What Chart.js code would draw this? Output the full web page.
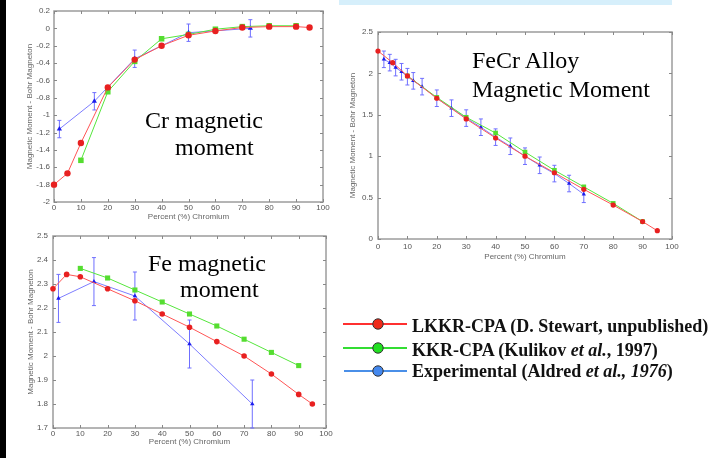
<!doctype html>
<html lang="en">
<head>
<meta charset="utf-8">
<title>FeCr magnetic moments</title>
<script src="https://cdn.jsdelivr.net/npm/chart.js@4.4.0/dist/chart.umd.min.js"></script>
<style>
  body { margin: 0; width: 720px; height: 458px; background: #fff; position: relative; overflow: hidden; }
  .bar { position: absolute; left: 0; top: 0; width: 6px; height: 458px; background: #000; }
  .strip { position: absolute; left: 339px; top: 0; width: 333px; height: 5px; background: #d6effb; }
  .box { position: absolute; }
  .note { position: absolute; font-family: "Liberation Serif", "Times New Roman", serif; font-size: 24px; line-height: 24px; color: #000; white-space: nowrap; }
  .leg { position: absolute; left: 412px; font-family: "Liberation Serif", "Times New Roman", serif; font-size: 18px; line-height: 18px; font-weight: bold; color: #111; white-space: nowrap; }
  svg { position: absolute; left: 0; top: 0; }
</style>
</head>
<body>
<div class="bar"></div>
<div class="strip"></div>

<div class="box" style="left:0;top:0"><canvas id="crChart" width="340" height="225"></canvas></div>
<div class="box" style="left:330px;top:0"><canvas id="alloyChart" width="390" height="262"></canvas></div>
<div class="box" style="left:0;top:225px"><canvas id="feChart" width="340" height="225"></canvas></div>

<div class="note" style="left:145px;top:108px">Cr magnetic</div>
<div class="note" style="left:175px;top:135px">moment</div>
<div class="note" style="left:472px;top:48px">FeCr Alloy</div>
<div class="note" style="left:472px;top:77px">Magnetic Moment</div>
<div class="note" style="left:148px;top:251px">Fe magnetic</div>
<div class="note" style="left:180px;top:277px">moment</div>

<svg width="720" height="458">
  <line x1="343" y1="324" x2="407" y2="324" stroke="#ff3030" stroke-width="2"/>
  <circle cx="378" cy="324" r="5.2" fill="#f02a1a" stroke="#333" stroke-width="1"/>
  <line x1="343" y1="348" x2="407" y2="348" stroke="#33dd33" stroke-width="2"/>
  <circle cx="378" cy="348" r="5.2" fill="#22e022" stroke="#333" stroke-width="1"/>
  <line x1="344" y1="371" x2="407" y2="371" stroke="#4a8fe8" stroke-width="2"/>
  <circle cx="378" cy="371" r="5.2" fill="#4488ee" stroke="#333" stroke-width="1"/>
</svg>
<div class="leg" style="top:317px">LKKR-CPA (D. Stewart, unpublished)</div>
<div class="leg" style="top:341px">KKR-CPA (Kulikov <i>et al.</i>, 1997)</div>
<div class="leg" style="top:362px">Experimental (Aldred <i>et al., 1976</i>)</div>

<script>
// tick labels
const pctTicks = [0, 10, 20, 30, 40, 50, 60, 70, 80, 90, 100];
const crTicks = [-2, -1.8, -1.6, -1.4, -1.2, -1, -0.8, -0.6, -0.4, -0.2, 0, 0.2];
const alloyTicks = [0, 0.5, 1, 1.5, 2, 2.5];
const feTicks = [1.7, 1.8, 1.9, 2, 2.1, 2.2, 2.3, 2.4, 2.5];

// Cr magnetic moment
const crRedPct = [0, 5, 10, 20, 30, 40, 50, 60, 70, 80, 90, 95];
const crRed = [-1.80, -1.67, -1.32, -0.68, -0.36, -0.20, -0.08, -0.03, 0.01, 0.02, 0.02, 0.01];
const crGreenPct = [10, 20, 30, 40, 50, 60, 70, 80, 90];
const crGreen = [-1.52, -0.73, -0.38, -0.12, -0.07, -0.01, 0.02, 0.03, 0.03];
const crBluePct = [2, 15, 30, 50, 73];
const crBlue = [-1.16, -0.84, -0.35, -0.05, 0.0];
const crBlueErr = [0.1, 0.1, 0.1, 0.1, 0.1];

// FeCr alloy magnetic moment
const alloyRedPct = [0, 5, 10, 20, 30, 40, 50, 60, 70, 80, 90, 95];
const alloyRed = [2.27, 2.13, 1.97, 1.70, 1.45, 1.22, 1.00, 0.80, 0.60, 0.41, 0.21, 0.10];
const alloyGreenPct = [10, 20, 30, 40, 50, 60, 70, 80, 90];
const alloyGreen = [1.97, 1.71, 1.47, 1.28, 1.05, 0.83, 0.63, 0.43, 0.21];
const alloyBluePct = [2, 4, 6, 8, 10, 12, 15, 20, 25, 30, 35, 40, 45, 50, 55, 60, 65, 70];
const alloyBlue = [2.17, 2.13, 2.07, 2.02, 1.96, 1.91, 1.84, 1.70, 1.58, 1.46, 1.35, 1.23, 1.12, 1.00, 0.89, 0.79, 0.67, 0.54];
const alloyBlueErr = [0.1, 0.1, 0.1, 0.1, 0.1, 0.1, 0.1, 0.1, 0.1, 0.1, 0.1, 0.1, 0.1, 0.1, 0.1, 0.1, 0.1, 0.1];

// Fe magnetic moment
const feRedPct = [0, 5, 10, 20, 30, 40, 50, 60, 70, 80, 90, 95];
const feRed = [2.28, 2.34, 2.33, 2.28, 2.23, 2.175, 2.12, 2.06, 2.0, 1.925, 1.84, 1.80];
const feGreenPct = [10, 20, 30, 40, 50, 60, 70, 80, 90];
const feGreen = [2.365, 2.325, 2.275, 2.225, 2.175, 2.125, 2.07, 2.015, 1.96];
const feBluePct = [2, 15, 30, 50, 73];
const feBlue = [2.24, 2.31, 2.25, 2.05, 1.80];
const feBlueErr = [0.1, 0.1, 0.1, 0.1, 0.1];

function pts(xs, ys) {
  return xs.map((x, i) => ({x: x, y: ys[i]}));
}

function series(label, xs, ys, line, fill, style, r, err) {
  return {
    label: label,
    data: pts(xs, ys),
    borderColor: line,
    backgroundColor: fill,
    pointBackgroundColor: fill,
    pointBorderWidth: 0,
    borderWidth: 1,
    pointStyle: style,
    pointRadius: r,
    clip: false,
    err: err
  };
}

// grey box with small ticks pointing inward
const frame = {
  id: 'frame',
  beforeDatasetsDraw(chart) {
    const {ctx, chartArea: a, scales: {x, y}} = chart;
    ctx.save();
    ctx.strokeStyle = '#9c9c9c';
    ctx.lineWidth = 1.5;
    ctx.strokeRect(a.left, a.top, a.right - a.left, a.bottom - a.top);
    ctx.lineWidth = 1;
    ctx.strokeStyle = '#888';
    ctx.beginPath();
    x.ticks.forEach(t => {
      const px = Math.round(x.getPixelForValue(t.value)) + 0.5;
      ctx.moveTo(px, a.bottom); ctx.lineTo(px, a.bottom - 3);
      ctx.moveTo(px, a.top); ctx.lineTo(px, a.top + 3);
    });
    y.ticks.forEach(t => {
      const py = Math.round(y.getPixelForValue(t.value)) + 0.5;
      ctx.moveTo(a.left, py); ctx.lineTo(a.left + 3, py);
      ctx.moveTo(a.right, py); ctx.lineTo(a.right - 3, py);
    });
    ctx.stroke();
    ctx.restore();
  }
};

const errorBars = {
  id: 'errorBars',
  beforeDatasetsDraw(chart) {
    const {ctx} = chart;
    const y = chart.scales.y;
    chart.data.datasets.forEach((ds, i) => {
      if (!ds.err) return;
      const meta = chart.getDatasetMeta(i);
      ctx.save();
      ctx.strokeStyle = '#6f6fff';
      ctx.lineWidth = 1;
      ctx.beginPath();
      meta.data.forEach((p, j) => {
        const e = ds.err[j];
        if (e == null) return;
        const v = ds.data[j].y;
        const top = y.getPixelForValue(v + e);
        const bot = y.getPixelForValue(v - e);
        ctx.moveTo(p.x, top); ctx.lineTo(p.x, bot);
        ctx.moveTo(p.x - 2, top); ctx.lineTo(p.x + 2, top);
        ctx.moveTo(p.x - 2, bot); ctx.lineTo(p.x + 2, bot);
      });
      ctx.stroke();
      ctx.restore();
    });
  }
};

const tickFont = {family: 'Liberation Sans, Arial, sans-serif', size: 8};
const titleFont = {family: 'Liberation Sans, Arial, sans-serif', size: 8};

function makeChart(id, datasets, yMin, yMax, yTicks, lay) {
  return new Chart(document.getElementById(id), {
    type: 'line',
    data: {datasets: datasets},
    plugins: [frame, errorBars],
    options: {
      responsive: false,
      animation: false,
      layout: {padding: lay.pad},
      plugins: {legend: {display: false}, tooltip: {enabled: false}},
      scales: {
        x: {
          type: 'linear', min: 0, max: 100,
          afterBuildTicks: s => { s.ticks = pctTicks.map(v => ({value: v})); },
          afterFit: s => { s.height = lay.xH; },
          grid: {display: false, drawTicks: false},
          border: {display: false},
          ticks: {font: tickFont, color: '#555', padding: lay.xPad, maxRotation: 0, callback: v => String(v)},
          title: {display: true, text: 'Percent (%) Chromium', font: titleFont, color: '#666', padding: {top: 0, bottom: lay.xTitlePad}}
        },
        y: {
          min: yMin, max: yMax,
          afterBuildTicks: s => { s.ticks = yTicks.map(v => ({value: v})); },
          afterFit: s => { s.width = lay.yW; },
          grid: {display: false, drawTicks: false},
          border: {display: false},
          ticks: {font: tickFont, color: '#555', padding: lay.yPad, callback: v => String(Math.round(v * 10) / 10)},
          title: {display: true, text: 'Magnetic Moment - Bohr Magneton', font: titleFont, color: '#666', padding: {top: 4, bottom: 0}}
        }
      }
    }
  });
}

const RED_LINE = 'rgb(255,85,85)', RED = '#e82020';
const GREEN_LINE = 'rgb(85,230,60)', GREEN = '#55dd30';
const BLUE_LINE = 'rgb(125,125,255)', BLUE = '#1c1cee';

makeChart('crChart', [
  series('LKKR-CPA', crRedPct, crRed, RED_LINE, RED, 'circle', 3.2),
  series('KKR-CPA', crGreenPct, crGreen, GREEN_LINE, GREEN, 'rect', 3.9),
  series('Experimental', crBluePct, crBlue, BLUE_LINE, BLUE, 'triangle', 3, crBlueErr)
], -2, 0.2, crTicks, {pad: {left: 20.7, top: 11, right: 17, bottom: 2}, yW: 33.3, xH: 21, xPad: 1, yPad: 4, xTitlePad: 1});

makeChart('alloyChart', [
  series('LKKR-CPA', alloyRedPct, alloyRed, RED_LINE, RED, 'circle', 2.6),
  series('KKR-CPA', alloyGreenPct, alloyGreen, GREEN_LINE, GREEN, 'rect', 3.3),
  series('Experimental', alloyBluePct, alloyBlue, BLUE_LINE, BLUE, 'triangle', 2.5, alloyBlueErr)
], 0, 2.5, alloyTicks, {pad: {left: 14.2, top: 32, right: 48, bottom: 0}, yW: 33.8, xH: 23, xPad: 3, yPad: 5, xTitlePad: 0});

makeChart('feChart', [
  series('LKKR-CPA', feRedPct, feRed, RED_LINE, RED, 'circle', 2.8),
  series('KKR-CPA', feGreenPct, feGreen, GREEN_LINE, GREEN, 'rect', 3.6),
  series('Experimental', feBluePct, feBlue, BLUE_LINE, BLUE, 'triangle', 2.6, feBlueErr)
], 1.7, 2.5, feTicks, {pad: {left: 22.2, top: 11, right: 14, bottom: 2}, yW: 30.8, xH: 20, xPad: 1, yPad: 5, xTitlePad: 1});
</script>
</body>
</html>
